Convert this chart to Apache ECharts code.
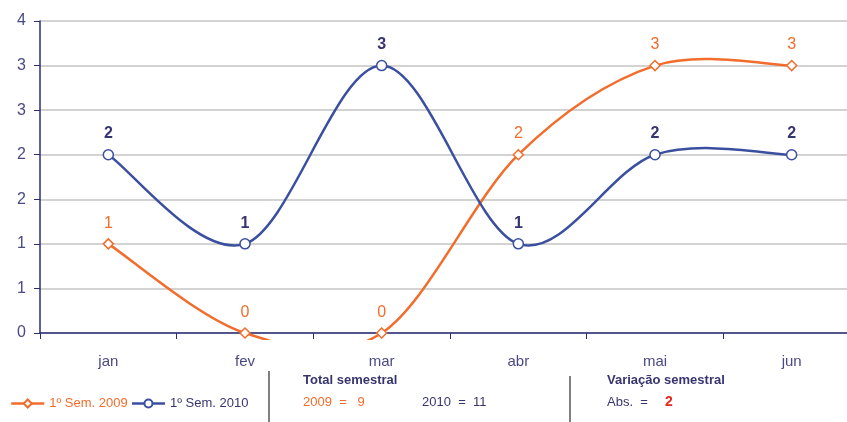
<!DOCTYPE html>
<html>
<head>
<meta charset="utf-8">
<script src="https://cdn.jsdelivr.net/npm/echarts@6/dist/echarts.min.js"></script>
<style>
  html, body { margin: 0; padding: 0; background: #fff; }
  #chart { width: 847px; height: 422px; }
</style>
</head>
<body>
<div id="chart"></div>
<script>
// dados
const meses = ['jan', 'fev', 'mar', 'abr', 'mai', 'jun'];
const sem2009 = [1, 0, 0, 2, 3, 3];
const sem2010 = [2, 1, 3, 1, 2, 2];
const yTicks = { min: 0, max: 3.5, interval: 0.5 };

const FONT = "'Liberation Sans', Arial, sans-serif";
const LARANJA = '#f26d2c';
const AZUL = '#3b4fa0';
const NAVY = '#36356f';

const soma = arr => arr.reduce((a, b) => a + b, 0);
const total2009 = soma(sem2009);
const total2010 = soma(sem2010);
const variacao = total2010 - total2009;

// curva suavizada estilo Excel (Catmull-Rom), um segmento por ponto
function curva(arr, cor) {
  return function (params, api) {
    const i = params.dataIndex;
    const n = arr.length;
    if (i >= n - 1) return null;
    const p = k => {
      const j = Math.max(0, Math.min(n - 1, k));
      return api.coord([j, arr[j]]);
    };
    const p0 = p(i - 1), p1 = p(i), p2 = p(i + 1), p3 = p(i + 2);
    const cs = params.coordSys;
    return {
      type: 'bezierCurve',
      shape: {
        x1: p1[0], y1: p1[1],
        x2: p2[0], y2: p2[1],
        cpx1: p1[0] + (p2[0] - p0[0]) / 6,
        cpy1: p1[1] + (p2[1] - p0[1]) / 6,
        cpx2: p2[0] - (p3[0] - p1[0]) / 6,
        cpy2: p2[1] - (p3[1] - p1[1]) / 6
      },
      style: { stroke: cor, lineWidth: 2.5, fill: null },
      clipPath: {
        type: 'rect',
        shape: { x: cs.x, y: cs.y - 30, width: cs.width, height: cs.height + 37 }
      }
    };
  };
}

const chart = echarts.init(document.getElementById('chart'));

const rotulo = (cor, peso) => ({
  show: true, position: 'top', distance: 7,
  color: cor, fontSize: 16, fontWeight: peso, fontFamily: FONT,
  formatter: p => String(Math.round(p.value))
});

chart.setOption({
  animation: false,
  textStyle: { fontFamily: FONT },
  grid: { left: 40, top: 21, width: 820, height: 312, containLabel: false, outerBoundsMode: 'none' },
  xAxis: {
    type: 'category',
    data: meses,
    boundaryGap: true,
    axisLine: { lineStyle: { color: '#2c2c78', width: 1.5 } },
    axisTick: { show: true, length: 6, lineStyle: { color: '#2c2c78' } },
    axisLabel: { color: '#4a4a86', fontSize: 15, margin: 21, fontFamily: FONT },
    splitLine: { show: false }
  },
  yAxis: {
    type: 'value',
    min: yTicks.min,
    max: yTicks.max,
    interval: yTicks.interval,
    axisLine: { show: true, lineStyle: { color: '#2c2c78', width: 1.5 } },
    axisTick: { show: true, length: 6, lineStyle: { color: '#2c2c78' } },
    axisLabel: {
      color: '#4a4a86', fontSize: 16, margin: 14, fontFamily: FONT,
      formatter: v => String(Math.round(v))
    },
    splitLine: { lineStyle: { color: '#c4c4c4', width: 1.5 } }
  },
  legend: {
    left: 10,
    top: 397,
    padding: 0,
    itemWidth: 33,
    itemHeight: 10,
    itemGap: 3,
    textStyle: { fontSize: 13, fontFamily: FONT },
    data: [
      { name: '1º Sem. 2009', textStyle: { color: LARANJA }, lineStyle: { color: LARANJA, width: 2.5, opacity: 1 } },
      { name: '1º Sem. 2010', textStyle: { color: NAVY }, lineStyle: { color: AZUL, width: 2.5, opacity: 1 } }
    ]
  },
  series: [
    {
      name: 'c2009',
      type: 'custom',
      data: sem2009.map((v, i) => [i, v]),
      renderItem: curva(sem2009, LARANJA),
      z: 2
    },
    {
      name: 'c2010',
      type: 'custom',
      data: sem2010.map((v, i) => [i, v]),
      renderItem: curva(sem2010, AZUL),
      z: 2
    },
    {
      name: '1º Sem. 2009',
      type: 'line',
      data: sem2009,
      symbol: 'diamond',
      symbolSize: 10,
      itemStyle: { color: '#fff', borderColor: LARANJA, borderWidth: 1.5 },
      lineStyle: { color: LARANJA, width: 2.5, opacity: 0 },
      label: rotulo(LARANJA, 'normal'),
      z: 3
    },
    {
      name: '1º Sem. 2010',
      type: 'line',
      data: sem2010,
      symbol: 'circle',
      symbolSize: 10,
      itemStyle: { color: '#fff', borderColor: AZUL, borderWidth: 1.5 },
      lineStyle: { color: AZUL, width: 2.5, opacity: 0 },
      label: rotulo(NAVY, 'bold'),
      z: 4
    }
  ],
  graphic: [
    // separadores
    { type: 'line', shape: { x1: 269, y1: 371, x2: 269, y2: 422 }, style: { stroke: '#808080', lineWidth: 2 } },
    { type: 'line', shape: { x1: 570, y1: 376, x2: 570, y2: 422 }, style: { stroke: '#808080', lineWidth: 2 } },
    // total semestral
    { type: 'text', left: 303, top: 374, style: { text: 'Total semestral', fill: NAVY, font: 'bold 13px ' + FONT } },
    { type: 'text', left: 303, top: 396, style: { text: '2009  =   ' + total2009, fill: LARANJA, font: '13px ' + FONT } },
    { type: 'text', left: 422, top: 396, style: { text: '2010  =  ' + total2010, fill: NAVY, font: '13px ' + FONT } },
    // variação semestral
    { type: 'text', left: 607, top: 374, style: { text: 'Variação semestral', fill: NAVY, font: 'bold 13px ' + FONT } },
    { type: 'text', left: 607, top: 396, style: { text: 'Abs.  =', fill: NAVY, font: '13px ' + FONT } },
    { type: 'text', left: 665, top: 395, style: { text: String(variacao), fill: '#e8261c', font: 'bold 14px ' + FONT } }
  ]
});
</script>
</body>
</html>
